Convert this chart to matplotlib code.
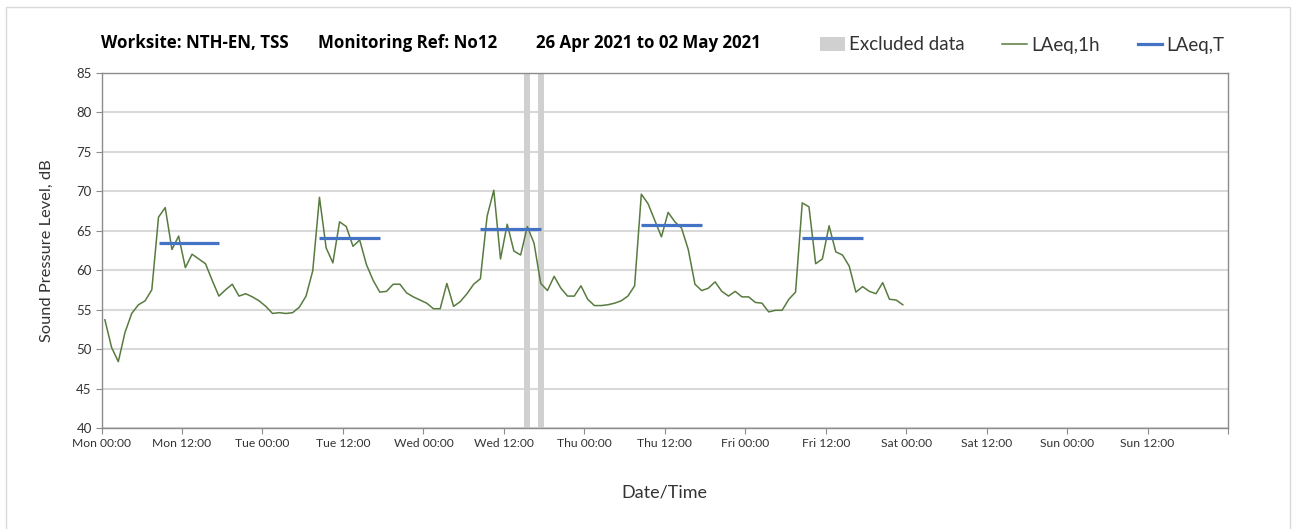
import numpy as np
import matplotlib
matplotlib.use('Agg')
import matplotlib.pyplot as plt
from matplotlib.lines import Line2D
from matplotlib.patches import Patch, Rectangle

plt.rcParams['font.family'] = ['Lato', 'DejaVu Sans']

# Hourly LAeq,1h (dB), one value per hour, Mon 00:00 .. Fri 23:00
mon = [53.7, 50.2, 48.4, 52.1, 54.5, 55.6, 56.1, 57.5, 66.7, 67.9, 62.6, 64.3,
       60.3, 62.0, 61.4, 60.8, 58.7, 56.7, 57.5, 58.2, 56.7, 57.0, 56.6, 56.1]
tue = [55.4, 54.5, 54.6, 54.5, 54.6, 55.3, 56.7, 59.9, 69.2, 62.8, 60.9, 66.1,
       65.5, 63.0, 63.8, 60.7, 58.7, 57.2, 57.3, 58.2, 58.2, 57.1, 56.6, 56.2]
wed = [55.8, 55.1, 55.1, 58.3, 55.4, 56.0, 57.0, 58.2, 58.9, 66.8, 70.1, 61.4,
       65.8, 62.4, 61.9, 65.5, 63.4, 58.3, 57.4, 59.2, 57.7, 56.7, 56.7, 58.0]
thu = [56.3, 55.5, 55.5, 55.6, 55.8, 56.1, 56.7, 58.0, 69.6, 68.4, 66.3, 64.2,
       67.3, 66.1, 65.3, 62.6, 58.2, 57.4, 57.7, 58.5, 57.3, 56.7, 57.3, 56.6]
fri = [56.6, 55.9, 55.8, 54.7, 54.9, 54.9, 56.3, 57.2, 68.5, 68.0, 60.8, 61.4,
       65.6, 62.3, 61.9, 60.5, 57.2, 57.9, 57.3, 57.0, 58.4, 56.3, 56.2, 55.6]

# LAeq,T for the daytime period of each weekday
laeq_t = [63.4, 64.1, 65.25, 65.75, 64.0]
period_start = 8   # first hour of period
period_end = 17    # last hour of period

# excluded hours (hours since Mon 00:00)
excluded_hours = [63, 65]

tick_labels = ['Mon 00:00', 'Mon 12:00', 'Tue 00:00', 'Tue 12:00', 'Wed 00:00',
               'Wed 12:00', 'Thu 00:00', 'Thu 12:00', 'Fri 00:00', 'Fri 12:00',
               'Sat 00:00', 'Sat 12:00', 'Sun 00:00', 'Sun 12:00', '']

hourly = np.array(mon + tue + wed + thu + fri)
hours = np.arange(len(hourly)) + 0.5

green = '#587b3f'
blue = '#4472c4'
grey_bar = '#d0d0d0'
grid_c = '#d9d9d9'
spine_c = '#8c8c8c'
text_c = '#333333'

fig = plt.figure(figsize=(12.95, 5.29), dpi=100)
ax = fig.add_axes([0.0784, 0.1909, 0.8699, 0.672])

# excluded data bars
for h in excluded_hours:
    ax.axvspan(h + 0.075, h + 0.925, color=grey_bar, lw=0, zorder=1)

ax.plot(hours, hourly, color=green, lw=1.1, zorder=3)

for d, v in enumerate(laeq_t):
    ax.hlines(v, d * 24 + period_start + 0.5, d * 24 + period_end + 0.5,
              color=blue, lw=2.3, zorder=4)

ax.set_xlim(0, 168)
ax.set_ylim(40, 85)
ax.set_xticks(np.arange(0, 169, 12))
ax.set_xticklabels(tick_labels)
ax.set_xticks(np.arange(0, 169, 24), minor=True)
ax.set_yticks(np.arange(40, 86, 5))

ax.grid(False)
ax.grid(True, which='minor', axis='x', color=grid_c, lw=1.2, zorder=0)
ax.grid(True, which='major', axis='y', color=grid_c, lw=1.5, zorder=0)
ax.set_axisbelow(True)

ax.tick_params(axis='x', which='major', length=4, color=spine_c, labelsize=8.7,
               labelcolor=text_c, pad=3)
ax.tick_params(axis='x', which='minor', length=0)
ax.tick_params(axis='y', length=4, color=spine_c, labelsize=9.5,
               labelcolor=text_c, pad=3)
for s in ax.spines.values():
    s.set_color(spine_c)
    s.set_linewidth(1.0)

ax.set_ylabel('Sound Pressure Level, dB', fontsize=11.8, color=text_c, labelpad=16)
ax.set_xlabel('Date/Time', fontsize=13, color=text_c, labelpad=26)

# title pieces
title_y = 1 - 43 / 529
for x, s in [(101, 'Worksite: NTH-EN, TSS'), (318, 'Monitoring Ref: No12'),
             (536, '26 Apr 2021 to 02 May 2021')]:
    fig.text(x / 1295, title_y, s, fontsize=12.2, fontweight='bold',
             family=['Open Sans', 'DejaVu Sans'], va='center', ha='left')

handles = [Patch(facecolor=grey_bar, edgecolor='none'),
           Line2D([], [], color=green, lw=1.1),
           Line2D([], [], color=blue, lw=2.3)]
fig.legend(handles, ['Excluded data', 'LAeq,1h', 'LAeq,T'], ncol=3,
           loc='center right', bbox_to_anchor=(1234 / 1295, 1 - 45 / 529),
           frameon=False, fontsize=13.5, handlelength=1.3, handletextpad=0.25,
           columnspacing=2.0, borderpad=0, labelcolor=text_c)

# outer chart frame
fig.add_artist(Rectangle((6 / 1295, -0.05), 1284 / 1295, 1.05 - 7 / 529,
                         transform=fig.transFigure, fill=False,
                         edgecolor=grid_c, lw=1.0))

fig.savefig('out.png', dpi=100)
